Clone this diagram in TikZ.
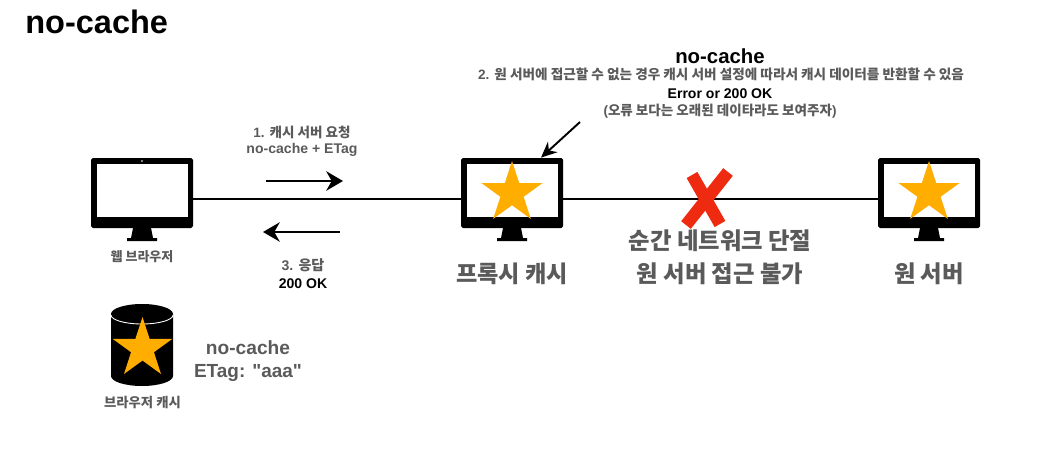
\documentclass[tikz,border=0pt]{standalone}
\usepackage{fontspec}
\setmainfont{Liberation Sans}
\newfontfamily\plainfont{Liberation Sans}
\newfontfamily\kr{Noto Sans CJK KR}
\usetikzlibrary{shapes.geometric,arrows.meta}
\definecolor{starcol}{HTML}{FFAE00}
\definecolor{crosscol}{HTML}{EE2A10}
\definecolor{txtcol}{HTML}{5A5A5A}
\def\u{0.02cm}
\tikzset{
  screenbody/.style={rectangle, fill=black, rounded corners=1pt, inner sep=0, minimum width=102*\u, minimum height=70*\u},
  screenglass/.style={rectangle, fill=white, inner sep=0, minimum width=91*\u, minimum height=53*\u},
  starmark/.style={star, star points=5, star point ratio=2.618, fill=starcol, inner sep=0, minimum size=64*\u},
  greytxt/.style={text=txtcol, inner sep=0},
  linkline/.style={line width=1.2pt, black},
  flowarrow/.style={line width=1.5pt, -{Stealth[length=9.5pt,width=11pt]}},
  crossbar/.style={line width=7pt, crosscol}
}
%Vẽ màn hình
\def\monitor(#1,#2)#3{
  \fill (#2-9,228)--(#2+9,228)--(#2+11,238)--(#2+15,238)--(#2+15,241)--(#2-15,241)--(#2-15,238)--(#2-11,238)--cycle;
  \node[screenbody] (#1) at (#2,193) {};
  \node[screenglass] (#1glass) at (#2,190.5) {};
  #3
}
\begin{document}
\begin{tikzpicture}[x=\u, y=-\u, line join = round, >=stealth]
\useasboundingbox (0,0) rectangle (1037,473);
%Tiêu đề
\node[anchor=west, inner sep=0, font=\fontsize{18.5}{20}\selectfont\bfseries] (title) at (25,22) {no-cache};
%Màn hình
\monitor(browser,142){\node[circle, fill=white, inner sep=0, minimum size=1pt] (camera) at (142,161) {};}
\monitor(proxy,512){\node[starmark] (proxystar) at (512,193) {};}
\monitor(server,929){\node[starmark] (serverstar) at (929,193) {};}
%Đường nối
\draw[linkline] ([yshift=-3.4pt]browser.east)--([yshift=-3.4pt]proxy.west);
\draw[linkline] ([yshift=-3.4pt]proxy.east)--([yshift=-3.4pt]server.west);
\draw[crossbar] (728,172)--(686,225);
\draw[crossbar] (692,175)--(720,224);
%Mũi tên
\coordinate (reqstart) at (266,181); \coordinate (reqend) at (343,181);
\coordinate (respstart) at (340,232); \coordinate (respend) at (263,232);
\coordinate (notestart) at (580,122);
\draw[flowarrow] (reqstart)--(reqend);
\draw[flowarrow] (respstart)--(respend);
\draw[flowarrow, line width=1.1pt, -{Stealth[length=9pt,width=8pt]}] (notestart)--([xshift=16.5pt]proxy.north);
%Bộ nhớ đệm
\fill (111,314)--(111,376) arc[start angle=180, end angle=0, x radius=31, y radius=10]--(173,314) arc[start angle=0, end angle=-180, x radius=31, y radius=10]--cycle;
\draw[white, line width=.5pt] (111,315) arc[start angle=180, end angle=0, x radius=31, y radius=9];
\node[starmark, minimum size=63*\u] (cachestar) at (142.5,348.5) {};
%Nhãn
\node[inner sep=0, font=\fontsize{11.6}{13}\selectfont\bfseries] (nc) at (720,56) {no-cache};
\node[greytxt, font=\fontsize{7.75}{9}\selectfont\bfseries] (step2) at (721,74.5) {2. {\kr 원 서버에 접근할 수 없는 경우 캐시 서버 설정에 따라서 캐시 데이터를 반환할 수 있음}};
\node[inner sep=0, font=\fontsize{8}{9}\selectfont\bfseries] (err) at (720,94) {Error or 200 OK};
\node[greytxt, font=\fontsize{7.7}{9}\selectfont\bfseries] (why) at (720,111) {({\kr 오류 보다는 오래된 데이타라도 보여주자})};
\node[greytxt, font=\fontsize{7.7}{9}\selectfont\bfseries] (step1) at (302,132) {1. {\kr 캐시 서버 요청}};
\node[greytxt, font=\fontsize{8}{9}\selectfont\bfseries] (reqtxt) at (302,150) {no-cache + ETag};
\node[greytxt, font=\fontsize{8}{9}\selectfont\bfseries] (step3) at (303,265) {3. {\kr 응답}};
\node[inner sep=0, font=\fontsize{8}{9}\selectfont\bfseries] (resptxt) at (303,284) {200 OK};
\node[greytxt, font=\fontsize{7.4}{9}\selectfont\bfseries] (browserlbl) at (142,257) {\kr 웹 브라우저};
\node[greytxt, font=\fontsize{13.2}{15}\selectfont\bfseries] (proxylbl) at (512,274) {\kr 프록시 캐시};
\node[greytxt, font=\fontsize{13.3}{15}\selectfont\bfseries] (cutlbl) at (720,241) {\kr 순간 네트워크 단절};
\node[greytxt, font=\fontsize{13.3}{15}\selectfont\bfseries] (nolbl) at (720,274) {\kr 원 서버 접근 불가};
\node[greytxt, font=\fontsize{13.3}{15}\selectfont\bfseries] (serverlbl) at (929,274) {\kr 원 서버};
\node[greytxt, font=\fontsize{7.6}{9}\selectfont\bfseries] (cachelbl) at (142.5,403) {\kr 브라우저 캐시};
\node[greytxt, font=\fontsize{10.9}{13}\selectfont\bfseries] (cachenc) at (248,348) {no-cache};
\node[greytxt, font=\fontsize{10.8}{13}\selectfont\bfseries] (cachetag) at (248,373) {\plainfont ETag: "aaa"};
\end{tikzpicture}
\end{document}
